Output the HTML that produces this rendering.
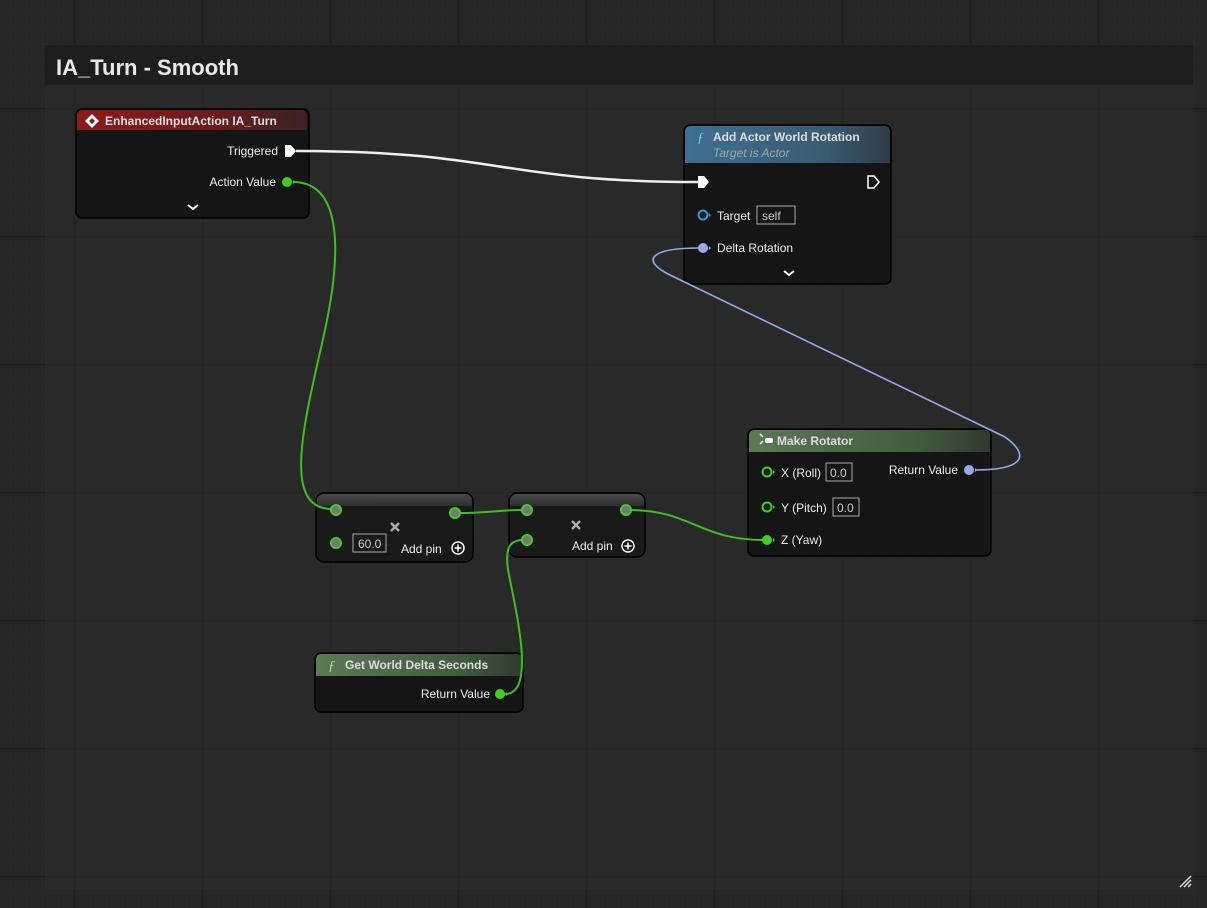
<!DOCTYPE html>
<html><head><meta charset="utf-8"><style>
html,body{margin:0;padding:0;width:1207px;height:908px;overflow:hidden;background:#262626;}
svg{display:block;font-family:"Liberation Sans",sans-serif;}
</style></head><body>
<svg width="1207" height="908" viewBox="0 0 1207 908" xmlns="http://www.w3.org/2000/svg">
<defs>
<pattern id="minor" width="16" height="16" patternUnits="userSpaceOnUse" x="10" y="12">
<path d="M0 0.5H16M0.5 0V16" stroke="#292929" stroke-width="1" fill="none"/>
</pattern>
<pattern id="major" width="128" height="128" patternUnits="userSpaceOnUse" x="74" y="108">
<path d="M0 0.5H128M0.5 0V128" stroke="#1d1d1d" stroke-width="1.5" fill="none"/>
</pattern>
<linearGradient id="red" x1="0" y1="0" x2="1" y2="0"><stop offset="0" stop-color="#8e1a1a"/><stop offset="0.6" stop-color="#6a1c1c"/><stop offset="1" stop-color="#3a2222"/></linearGradient>
<linearGradient id="blue" x1="0" y1="0" x2="1" y2="0"><stop offset="0" stop-color="#3f6f8f"/><stop offset="0.7" stop-color="#395a70"/><stop offset="1" stop-color="#2f3c46"/></linearGradient>
<linearGradient id="green" x1="0" y1="0" x2="1" y2="0"><stop offset="0" stop-color="#5b7a55"/><stop offset="0.7" stop-color="#435a40"/><stop offset="1" stop-color="#2f3a2e"/></linearGradient>
<linearGradient id="grey" x1="0" y1="0" x2="0" y2="1"><stop offset="0" stop-color="#4a4a4a"/><stop offset="1" stop-color="#2e2e2e"/></linearGradient>
</defs>
<rect width="1207" height="908" fill="#262626"/>
<rect width="1207" height="908" fill="url(#minor)"/>
<rect width="1207" height="908" fill="url(#major)"/>
<!-- comment box -->
<rect x="45" y="45" width="1148" height="845" fill="#2b2b2b" fill-opacity="0.55"/>
<rect x="45" y="45" width="1148" height="40" fill="#1e1e1e"/>
<text x="56" y="75" font-size="22" font-weight="bold" fill="#e8e8e8">IA_Turn - Smooth</text>
<path d="M1180 887L1191 876M1184 887L1191 880M1188 887L1191 884" stroke="#ddd" stroke-width="1.5"/>

<!-- EnhancedInputAction node -->
<rect x="76" y="109" width="233" height="109" rx="6" fill="#141514" stroke="#000" stroke-width="1.5"/>
<path d="M77 130V115a5 5 0 0 1 5-5H302a5 5 0 0 1 5 5V130Z" fill="url(#red)"/>
<path d="M92 114L99 121L92 128L85 121Z" fill="#fff"/><path d="M92 118L95 121L92 124L89 121Z" fill="#8e1a1a"/>
<text x="105" y="125" font-size="12" font-weight="bold" fill="#ddd">EnhancedInputAction IA_Turn</text>
<text x="278" y="155" font-size="12" fill="#eee" text-anchor="end">Triggered</text>
<text x="276" y="186" font-size="12" fill="#eee" text-anchor="end">Action Value</text>
<path d="M188 205l5 4l5-4" stroke="#fff" stroke-width="2" fill="none"/>

<!-- Add Actor World Rotation -->
<rect x="684" y="125" width="207" height="159" rx="6" fill="#141514" stroke="#000" stroke-width="1.5"/>
<path d="M685 163V131a5 5 0 0 1 5-5H885a5 5 0 0 1 5 5V163Z" fill="url(#blue)"/>
<text x="697" y="142" font-size="14" font-style="italic" fill="#7fc3ef" font-family="Liberation Serif,serif">ƒ</text>
<text x="713" y="141" font-size="12" font-weight="bold" fill="#ddd">Add Actor World Rotation</text>
<text x="713" y="157" font-size="12" font-style="italic" fill="#99aa99">Target is Actor</text>
<path d="M868 176h6l5 6l-5 6h-6z" fill="none" stroke="#fff" stroke-width="1.5"/>
<circle cx="703" cy="215" r="4.5" fill="none" stroke="#22a0e0" stroke-width="2"/><path d="M709 213l2 2l-2 2z" fill="#22a0e0"/>
<text x="717" y="220" font-size="12" fill="#eee">Target</text>
<rect x="757" y="206" width="38" height="18" fill="none" stroke="#aaa" stroke-width="1"/>
<text x="762" y="220" font-size="12" fill="#ccc">self</text>
<text x="717" y="252" font-size="12" fill="#eee">Delta Rotation</text>
<path d="M784 271l5 4l5-4" stroke="#fff" stroke-width="2" fill="none"/>

<!-- Make Rotator -->
<rect x="748" y="429" width="243" height="127" rx="6" fill="#141514" stroke="#000" stroke-width="1.5"/>
<path d="M749 452V435a5 5 0 0 1 5-5H985a5 5 0 0 1 5 5V452Z" fill="url(#green)"/>
<path d="M760 434l3 3M760 444l3-3" stroke="#fff" stroke-width="1.5"/><rect x="765" y="438" width="8" height="5" rx="2" fill="#fff"/>
<text x="777" y="445" font-size="12" font-weight="bold" fill="#ddd">Make Rotator</text>
<circle cx="767" cy="472" r="4.5" fill="none" stroke="#3fcf1f" stroke-width="2"/><path d="M773 470l2 2l-2 2z" fill="#3fcf1f"/>
<text x="781" y="477" font-size="12" fill="#eee">X (Roll)</text>
<rect x="826" y="463" width="26" height="18" fill="none" stroke="#aaa"/><text x="830" y="477" font-size="12" fill="#ccc">0.0</text>
<circle cx="767" cy="507" r="4.5" fill="none" stroke="#3fcf1f" stroke-width="2"/><path d="M773 505l2 2l-2 2z" fill="#3fcf1f"/>
<text x="781" y="512" font-size="12" fill="#eee">Y (Pitch)</text>
<rect x="833" y="498" width="26" height="18" fill="none" stroke="#aaa"/><text x="837" y="512" font-size="12" fill="#ccc">0.0</text>
<text x="781" y="544" font-size="12" fill="#eee">Z (Yaw)</text>
<text x="958" y="474" font-size="12" fill="#eee" text-anchor="end">Return Value</text>

<!-- Multiply node 1 -->
<rect x="316" y="493" width="157" height="69" rx="8" fill="#181918" stroke="#000" stroke-width="1.5"/>
<path d="M317 506V501a7 7 0 0 1 7-7H465a7 7 0 0 1 7 7V506Z" fill="url(#grey)"/>
<rect x="353" y="534" width="33" height="18" fill="none" stroke="#aaa"/><text x="358" y="548" font-size="12" fill="#ccc">60.0</text>
<path d="M391 523l8 8M399 523l-8 8" stroke="#aaa" stroke-width="2.5"/>
<text x="401" y="553" font-size="12" fill="#eee">Add pin</text>
<circle cx="458" cy="548" r="6" fill="none" stroke="#fff" stroke-width="1.5"/><path d="M454.5 548h7M458 544.5v7" stroke="#fff" stroke-width="1.5"/>

<!-- Multiply node 2 -->
<rect x="509" y="493" width="136" height="64" rx="8" fill="#181918" stroke="#000" stroke-width="1.5"/>
<path d="M510 506V501a7 7 0 0 1 7-7H637a7 7 0 0 1 7 7V506Z" fill="url(#grey)"/>
<path d="M572 521l8 8M580 521l-8 8" stroke="#aaa" stroke-width="2.5"/>
<text x="572" y="550" font-size="12" fill="#eee">Add pin</text>
<circle cx="628" cy="546" r="6" fill="none" stroke="#fff" stroke-width="1.5"/><path d="M624.5 546h7M628 542.5v7" stroke="#fff" stroke-width="1.5"/>

<!-- Get World Delta Seconds -->
<rect x="315" y="653" width="208" height="59" rx="6" fill="#141514" stroke="#000" stroke-width="1.5"/>
<path d="M316 676V659a5 5 0 0 1 5-5H517a5 5 0 0 1 5 5V676Z" fill="url(#green)"/>
<text x="328" y="670" font-size="14" font-style="italic" fill="#bbddaa" font-family="Liberation Serif,serif">ƒ</text>
<text x="345" y="669" font-size="12" font-weight="bold" fill="#ddd">Get World Delta Seconds</text>
<text x="490" y="698" font-size="12" fill="#eee" text-anchor="end">Return Value</text>

<!-- wires (on top) -->
<path d="M296 151 C500 151 500 182 700 182" stroke="#f0f0f0" stroke-width="2.5" fill="none"/>
<path d="M293 182 C345 182 340 260 325 330 C305 420 280 509 332 509" stroke="#3fbf1f" stroke-width="2" fill="none"/>
<path d="M459 513 C490 513 495 510 523 510" stroke="#3fbf1f" stroke-width="2" fill="none"/>
<path d="M630 510 C690 510 700 540 763 540" stroke="#3fbf1f" stroke-width="2" fill="none"/>
<path d="M505 694 C535 694 518 620 509 575 C503 545 512 540 523 540" stroke="#3fbf1f" stroke-width="2" fill="none"/>
<path d="M975 470 C1025 470 1030 455 1005 437 L670 275 C640 260 650 248 700 248" stroke="#9aa6ec" stroke-width="1.6" fill="none"/>

<!-- pins (on top) -->
<path d="M285 145h6l5 6l-5 6h-6z" fill="#fff"/>
<circle cx="287" cy="182" r="5" fill="#3fcf1f"/><path d="M293 180l3 2l-3 2z" fill="#3fcf1f"/>
<path d="M698 176h6l5 6l-5 6h-6z" fill="#fff"/>
<circle cx="703" cy="248" r="5" fill="#9aa6ec"/><path d="M709 246l2 2l-2 2z" fill="#9aa6ec"/>
<circle cx="767" cy="540" r="5" fill="#3fcf1f"/><path d="M773 538l2 2l-2 2z" fill="#3fcf1f"/>
<circle cx="969" cy="470" r="5" fill="#9aa6ec"/><path d="M975 468l2 2l-2 2z" fill="#9aa6ec"/>
<circle cx="336" cy="510" r="5" fill="#777" stroke="#3fcf1f" stroke-width="2"/>
<circle cx="336" cy="543" r="5" fill="#777" stroke="#3fcf1f" stroke-width="2"/>
<circle cx="455" cy="513" r="5" fill="#777" stroke="#3fcf1f" stroke-width="2"/>
<circle cx="527" cy="510" r="5" fill="#777" stroke="#3fcf1f" stroke-width="2"/>
<circle cx="527" cy="540" r="5" fill="#777" stroke="#3fcf1f" stroke-width="2"/>
<circle cx="626" cy="510" r="5" fill="#777" stroke="#3fcf1f" stroke-width="2"/>
<circle cx="500" cy="694" r="5" fill="#3fcf1f"/><path d="M506 692l2 2l-2 2z" fill="#3fcf1f"/>
</svg>
</body></html>
